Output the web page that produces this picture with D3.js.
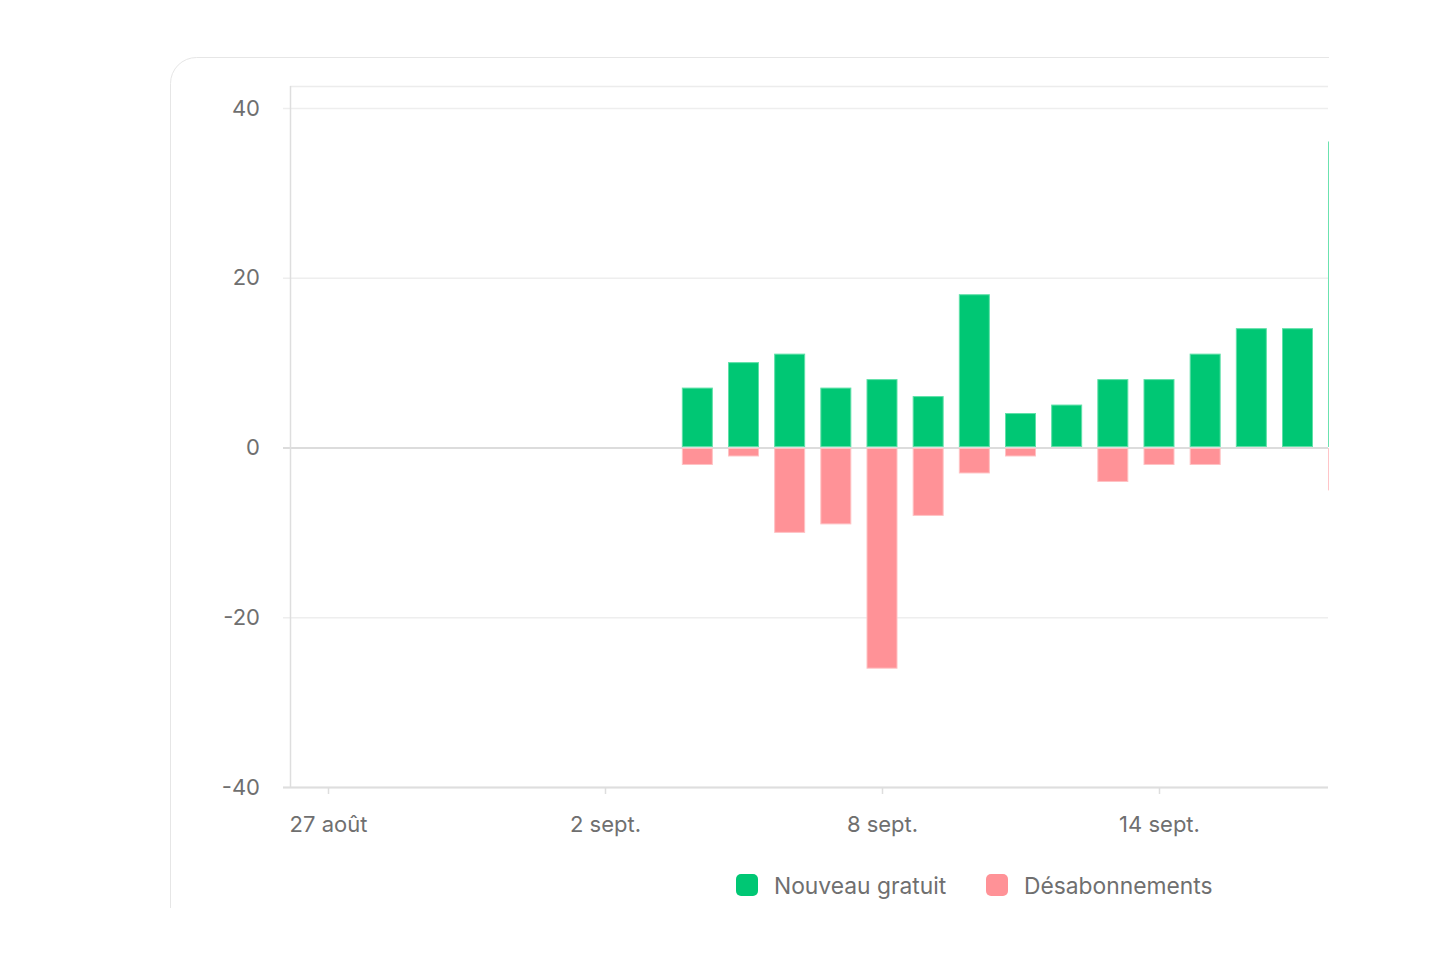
<!DOCTYPE html>
<html lang="fr">
<head>
<meta charset="utf-8">
<style>
  body { margin: 0; background: #fff; }
  svg text { font-family: Inter, "Noto Sans", sans-serif; fill: #6f6f6f; }
</style>
</head>
<body>
<svg width="1456" height="954"></svg>
<script src="https://d3js.org/d3.v7.min.js"></script>
<script>
  // data
  var days = ["2024-09-04","2024-09-05","2024-09-06","2024-09-07","2024-09-08","2024-09-09","2024-09-10",
              "2024-09-11","2024-09-12","2024-09-13","2024-09-14","2024-09-15","2024-09-16","2024-09-17","2024-09-18"];
  var nouveauGratuit = [7, 10, 11, 7, 8, 6, 18, 4, 5, 8, 8, 11, 14, 14, 36];
  var desabonnements = [-2, -1, -10, -9, -26, -8, -3, -1, 0, -4, -2, -2, 0, 0, -5];
  var xTicks = ["2024-08-27","2024-09-02","2024-09-08","2024-09-14"];
  var xTickLabels = ["27 août","2 sept.","8 sept.","14 sept."];
  var yTicks = [-40, -20, 0, 20, 40];
  var seriesNames = ["Nouveau gratuit", "Désabonnements"];
  var seriesColors = ["#00c774", "#ff9297"];
  var seriesStrokes = ["#5fe0a8", "#ffc2c4"];

  var parse = d3.timeParse("%Y-%m-%d");
  var svg = d3.select("svg");

  var plotLeft = 290, plotRight = 1328, plotTop = 86, plotBottom = 787;
  var barW = 30;

  // whole card is cut off on the right and bottom
  svg.append("clipPath").attr("id", "cut")
     .append("rect").attr("x", 0).attr("y", 0).attr("width", plotRight + 1).attr("height", 908);
  var root = svg.append("g").attr("clip-path", "url(#cut)");

  root.append("rect")
     .attr("x", 170.5).attr("y", 57.5)
     .attr("width", 1400).attr("height", 1000)
     .attr("rx", 26)
     .attr("fill", "#fff")
     .attr("stroke", "#e6e6e6");

  var x = d3.scaleTime()
     .domain([parse("2024-08-27"), parse("2024-09-14")])
     .range([328, 1159]);
  var y = d3.scaleLinear().domain([-40, 40]).range([plotBottom, 108]);

  // grid
  root.append("g").selectAll("line")
     .data(yTicks).enter().append("line")
     .attr("x1", plotLeft - 7).attr("x2", plotRight)
     .attr("y1", function (d) { return y(d) + 0.5; })
     .attr("y2", function (d) { return y(d) + 0.5; })
     .attr("stroke", function (d) { return d == 0 ? "#dcdcdc" : "#eeeeee"; })
     .attr("stroke-width", function (d) { return d == 0 ? 2 : 1.5; });

  // frame: top line and left axis
  root.append("line").attr("x1", plotLeft).attr("x2", plotRight).attr("y1", plotTop + 0.5).attr("y2", plotTop + 0.5)
     .attr("stroke", "#ececec").attr("stroke-width", 1.5);
  root.append("line").attr("x1", plotLeft + 0.5).attr("x2", plotLeft + 0.5).attr("y1", plotTop).attr("y2", plotBottom + 1)
     .attr("stroke", "#dedede").attr("stroke-width", 1.5);
  root.append("line").attr("x1", plotLeft - 7).attr("x2", plotRight).attr("y1", plotBottom + 0.5).attr("y2", plotBottom + 0.5)
     .attr("stroke", "#dedede").attr("stroke-width", 2);

  // y labels (plain hyphen for negatives, as in the original)
  var yAxis = root.append("g")
     .attr("transform", "translate(" + plotLeft + ",0)")
     .call(d3.axisLeft(y).tickValues(yTicks).tickSize(0).tickPadding(30).tickFormat(String));
  yAxis.select(".domain").remove();
  yAxis.selectAll("text").attr("font-size", 22).attr("fill", "#6f6f6f").attr("font-family", null);

  // x ticks and labels
  var tickDates = xTicks.map(parse);
  var xAxis = root.append("g")
     .attr("transform", "translate(0," + plotBottom + ")")
     .call(d3.axisBottom(x).tickValues(tickDates).tickSize(7).tickPadding(22)
        .tickFormat(function (d, i) { return xTickLabels[i]; }));
  xAxis.select(".domain").remove();
  xAxis.selectAll("line").attr("stroke", "#dedede").attr("stroke-width", 1.5);
  xAxis.selectAll("text").attr("font-size", 22).attr("fill", "#6f6f6f").attr("font-family", null);

  // bars
  var rows = days.map(function (d, i) {
     return { date: parse(d), up: nouveauGratuit[i], down: desabonnements[i] };
  });
  var plot = root.append("g");
  plot.selectAll(".down")
     .data(rows.filter(function (d) { return d.down < 0; }))
     .enter().append("rect")
     .attr("class", "down")
     .attr("x", function (d) { return x(d.date) - barW / 2; })
     .attr("y", y(0) + 1)
     .attr("width", barW)
     .attr("height", function (d) { return y(d.down) - y(0) - 1; })
     .attr("fill", seriesColors[1])
     .attr("stroke", seriesStrokes[1]).attr("stroke-width", 1);
  plot.selectAll(".up")
     .data(rows.filter(function (d) { return d.up > 0; }))
     .enter().append("rect")
     .attr("class", "up")
     .attr("x", function (d) { return x(d.date) - barW / 2; })
     .attr("y", function (d) { return y(d.up); })
     .attr("width", barW)
     .attr("height", function (d) { return y(0) - y(d.up) - 1; })
     .attr("fill", seriesColors[0])
     .attr("stroke", seriesStrokes[0]).attr("stroke-width", 1);

  // legend
  var legendX = [736, 986];
  var legend = svg.append("g").selectAll("g")
     .data(seriesNames).enter().append("g")
     .attr("transform", function (d, i) { return "translate(" + legendX[i] + ",874)"; });
  legend.append("rect")
     .attr("width", 22).attr("height", 22).attr("rx", 5)
     .attr("fill", function (d, i) { return seriesColors[i]; });
  legend.append("text")
     .attr("x", 38).attr("y", 20)
     .attr("font-size", 22.8)
     .text(function (d) { return d; });
</script>
</body>
</html>
